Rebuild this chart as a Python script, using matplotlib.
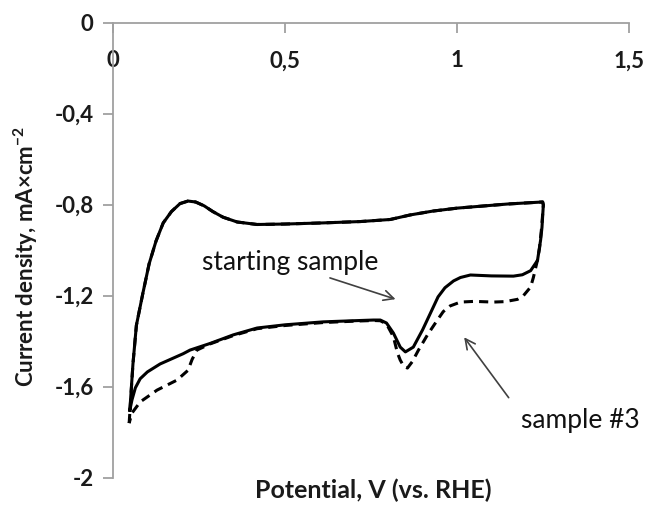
import matplotlib
matplotlib.use("Agg")
import matplotlib.pyplot as plt

plt.rcParams['font.family'] = ['Lato', 'DejaVu Sans']
plt.rcParams['mathtext.fontset'] = 'custom'
plt.rcParams['mathtext.rm'] = 'Lato:bold'
plt.rcParams['mathtext.bf'] = 'Lato:bold'

# Barrido anódico (común a las dos muestras)
v_anod = [0.049, 0.058, 0.068, 0.087, 0.105, 0.125, 0.146, 0.170, 0.195, 0.218,
          0.240, 0.265, 0.290, 0.320, 0.361, 0.419, 0.500, 0.611, 0.720, 0.806,
          0.864, 0.930, 1.001, 1.147, 1.249]
i_anod = [-1.703, -1.500, -1.330, -1.188, -1.060, -0.960, -0.880, -0.830, -0.795, -0.784,
          -0.788, -0.805, -0.830, -0.855, -0.876, -0.887, -0.885, -0.880, -0.874, -0.865,
          -0.845, -0.828, -0.815, -0.797, -0.788]

# Barrido catódico, muestra inicial
v_cat1 = [1.249, 1.251, 1.247, 1.243, 1.234, 1.214, 1.190, 1.164, 1.100, 1.039,
          1.010, 0.990, 0.965, 0.945, 0.923, 0.900, 0.873, 0.850, 0.835, 0.815,
          0.795, 0.777, 0.757, 0.700, 0.611, 0.500, 0.419, 0.350, 0.282, 0.224,
          0.204, 0.137, 0.100, 0.079, 0.065, 0.055, 0.049]
i_cat1 = [-0.788, -0.801, -0.900, -0.956, -1.045, -1.090, -1.108, -1.114, -1.113, -1.109,
          -1.120, -1.135, -1.165, -1.205, -1.276, -1.350, -1.426, -1.447, -1.426, -1.364,
          -1.320, -1.307, -1.307, -1.310, -1.315, -1.328, -1.342, -1.372, -1.410, -1.439,
          -1.455, -1.500, -1.535, -1.565, -1.605, -1.659, -1.703]

# Barrido catódico, muestra #3
v_cat3 = [1.249, 1.251, 1.246, 1.240, 1.234, 1.222, 1.214, 1.193, 1.176, 1.140,
          1.106, 1.050, 1.010, 0.980, 0.960, 0.943, 0.915, 0.888, 0.870, 0.856,
          0.845, 0.835, 0.827, 0.815, 0.795, 0.777, 0.757, 0.700, 0.611, 0.500,
          0.419, 0.350, 0.282, 0.244, 0.230, 0.218, 0.186, 0.128, 0.079, 0.055,
          0.047]
i_cat3 = [-0.788, -0.801, -0.900, -0.990, -1.043, -1.120, -1.162, -1.200, -1.216, -1.226,
          -1.228, -1.225, -1.228, -1.245, -1.270, -1.307, -1.370, -1.439, -1.490, -1.518,
          -1.510, -1.483, -1.452, -1.380, -1.324, -1.310, -1.309, -1.312, -1.318, -1.331,
          -1.345, -1.375, -1.412, -1.439, -1.480, -1.528, -1.571, -1.615, -1.667, -1.716,
          -1.760]

# el anódico de la muestra #3 arranca desde su propio mínimo
v_anod3 = [0.047] + v_anod[1:]
i_anod3 = [-1.760] + i_anod[1:]

fig = plt.figure(figsize=(6.47, 5.14), dpi=100)
ax = fig.add_axes([113/647, 1 - 477.7/514, 516/647, 455/514])

ax.plot(v_anod3 + v_cat3, i_anod3 + i_cat3, color='black', lw=2.2, ls=(0, (3, 2)),
        solid_joinstyle='round')
ax.plot(v_anod + v_cat1, i_anod + i_cat1, color='black', lw=2.2, solid_joinstyle='round')

ax.set_xlim(0, 1.5)
ax.set_ylim(-2, 0)

ax.spines['right'].set_visible(False)
ax.spines['top'].set_visible(False)
ax.spines['bottom'].set_position(('data', 0))
for s in ['left', 'bottom']:
    ax.spines[s].set_color('#a0a0a0')
    ax.spines[s].set_linewidth(1.3)

ax.set_xticks([0, 0.5, 1, 1.5])
ax.set_xticklabels(['0', '0,5', '1', '1,5'])
ax.set_yticks([0, -0.4, -0.8, -1.2, -1.6, -2])
ax.set_yticklabels(['0', '-0,4', '-0,8', '-1,2', '-1,6', '-2'])
ax.tick_params(axis='x', direction='out', length=7, width=1.3, color='#a0a0a0',
               pad=13, labelsize=16, labelcolor='#1a1a1a')
ax.tick_params(axis='y', direction='out', length=7, width=1.3, color='#a0a0a0',
               pad=7, labelsize=16, labelcolor='#1a1a1a')
for lab in ax.get_xticklabels() + ax.get_yticklabels():
    lab.set_fontweight('bold')

fig.text(373/647, 1 - 490/514, 'Potential, V (vs. RHE)', ha='center', va='center',
         fontsize=18, fontweight='bold', color='#1a1a1a')
fig.text(26/647, 1 - 256/514, 'Current density, mA×cm$^{\\mathbf{-2}}$', ha='center',
         va='center', rotation=90, fontsize=16, fontweight='bold', color='#1a1a1a')

flecha = dict(arrowstyle='->', color='#404040', lw=1.2, mutation_scale=18)
ax.annotate('', xy=(0.829, -1.219), xytext=(0.623, -1.118), arrowprops=flecha)
ax.text(0.515, -1.056, 'starting sample', ha='center', va='center', fontsize=19,
        color='#111111')
ax.annotate('', xy=(1.016, -1.373), xytext=(1.155, -1.658), arrowprops=flecha)
ax.text(1.359, -1.747, 'sample #3', ha='center', va='center', fontsize=19,
        color='#111111')

fig.savefig('out.png', dpi=100)
